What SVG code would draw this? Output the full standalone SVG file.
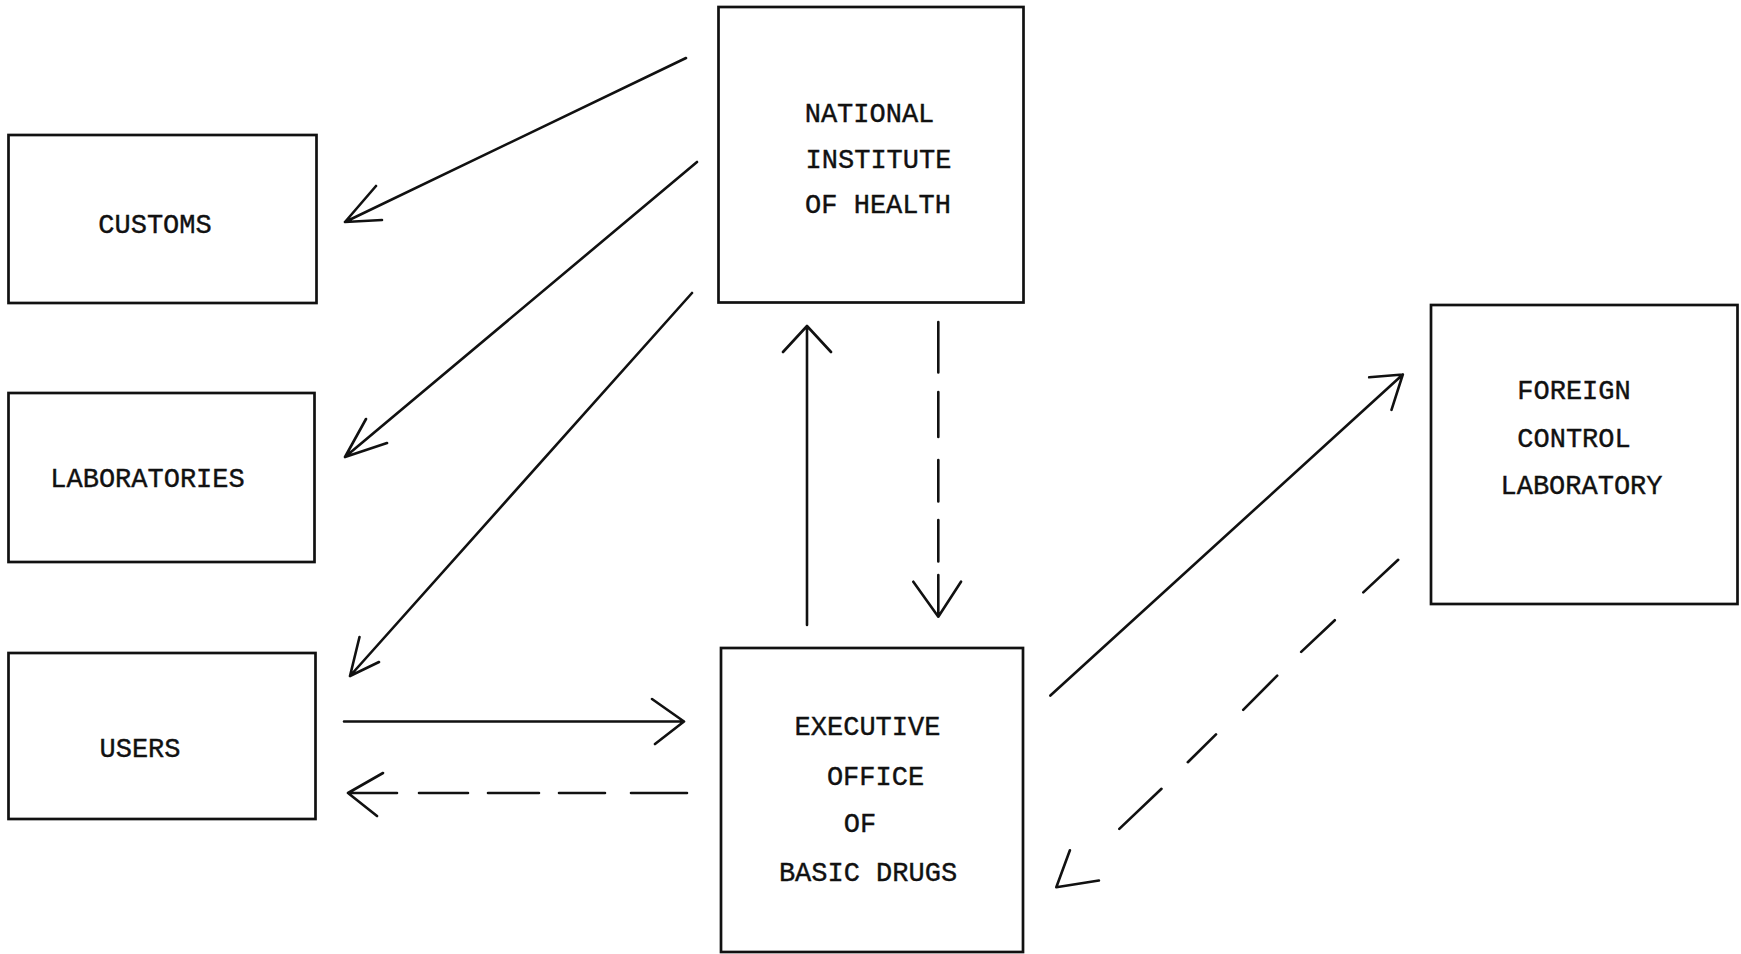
<svg xmlns="http://www.w3.org/2000/svg" width="1741" height="954" viewBox="0 0 1741 954">
<style>
.box{fill:#fff;stroke:#111;stroke-width:2.7}
.lbl{font-family:"Liberation Mono","Courier New",monospace;font-size:27px;fill:#111;stroke:#111;stroke-width:0.4;text-anchor:middle}
.ln{fill:none;stroke:#111;stroke-width:2.6;stroke-linecap:round;stroke-linejoin:round}
</style>
<rect width="1741" height="954" fill="#fff"/>
<g id="customs"><rect class="box" x="8.5" y="135" width="308" height="168"/><text class="lbl" x="155" y="233">CUSTOMS</text></g>
<g id="laboratories"><rect class="box" x="8.5" y="393" width="306" height="169"/><text class="lbl" x="147.5" y="486.5">LABORATORIES</text></g>
<g id="users"><rect class="box" x="8.5" y="653" width="307" height="166"/><text class="lbl" x="140" y="757">USERS</text></g>
<g id="nih"><rect class="box" x="718.5" y="7" width="305" height="295.5"/>
<text class="lbl" x="869.5" y="121.5">NATIONAL</text>
<text class="lbl" x="878.5" y="168">INSTITUTE</text>
<text class="lbl" x="878" y="213">OF HEALTH</text></g>
<g id="executive-office"><rect class="box" x="721" y="648" width="302" height="304"/>
<text class="lbl" x="867.5" y="734.5">EXECUTIVE</text>
<text class="lbl" x="875.5" y="784.5">OFFICE</text>
<text class="lbl" x="860" y="832">OF</text>
<text class="lbl" x="868" y="880.5">BASIC DRUGS</text></g>
<g id="foreign-lab"><rect class="box" x="1431" y="305" width="306.5" height="299"/>
<text class="lbl" x="1574" y="399">FOREIGN</text>
<text class="lbl" x="1574" y="446.5">CONTROL</text>
<text class="lbl" x="1581.5" y="494">LABORATORY</text></g>
<g id="connectors">
<path class="ln" d="M686,58 L345,222 M376,186 L345,222 L382,220"/>
<path class="ln" d="M697,162 L345,457 M366,419 L345,457 L387,443"/>
<path class="ln" d="M692,293 L350,676 M359.5,637 L350,676 L379,662"/>
<path class="ln" d="M344,721.5 L684,721.5 M652,699 L684,721.5 L655,744"/>
<path class="ln" d="M687,793 L631,793 M605,793 L559,793 M539,793 L488,793 M468,793 L419,793 M397,793 L348,793 M383,773 L348,793 L377,816"/>
<path class="ln" d="M807,625 L807,326 M783,352 L807,326 L831,352"/>
<path class="ln" d="M938.3,322 L938.3,372.5 M938.3,392 L938.3,437 M938.3,460 L938.3,501.5 M938.3,520 L938.3,561.5 M938.3,575 L938.3,616.7 M913.3,581.7 L938.3,616.7 L961,581.7"/>
<path class="ln" d="M1050.4,695.5 L1402.8,374.5 M1369.2,377.3 L1402.8,374.5 L1391.5,409.8"/>
<path class="ln" d="M1398.2,559.8 L1363.3,592.4 M1334.8,620.2 L1301.2,651.9 M1277.2,675.7 L1243.2,709.8 M1216,734.4 L1187.8,762.2 M1161.5,788.8 L1119.3,828.9 M1069.9,850.3 L1056.3,887.2 L1098.9,880.5"/>
</g>
</svg>
